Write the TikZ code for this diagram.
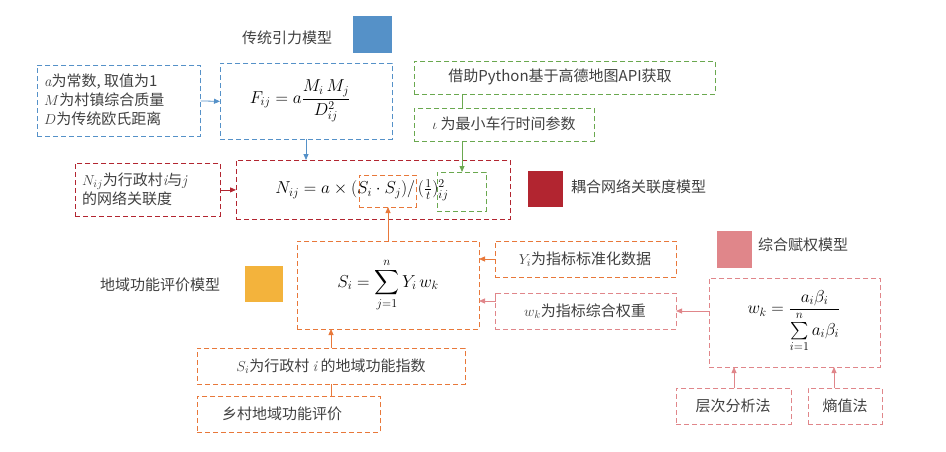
\documentclass[tikz,border=0pt]{standalone}
\usepackage{fontspec}
\usepackage{amsmath}
\newfontfamily\cjk{Noto Sans CJK SC}
\usetikzlibrary{arrows.meta}
\definecolor{cblue}{HTML}{5591C8}
\definecolor{cgreen}{HTML}{6AA84F}
\definecolor{cred}{HTML}{B22530}
\definecolor{corange}{HTML}{E8783A}
\definecolor{cyellow}{HTML}{F3B33C}
\definecolor{cpink}{HTML}{E0868A}
\definecolor{ctext}{HTML}{404040}
\begin{document}
\begin{tikzpicture}[x=1pt,y=-1pt,
  bx/.style={draw=#1,dashed,dash pattern=on 5pt off 3pt,line width=0.8pt,anchor=north west,inner sep=0pt,text=ctext},
  ar/.style={draw=#1,line width=0.8pt,-{Triangle[length=6pt,width=5pt]}},
  ln/.style={draw=#1,line width=0.8pt},
  tx/.style={text=ctext,font=\cjk\fontsize{15}{19}\selectfont,inner sep=0pt},
  font=\cjk\fontsize{15}{19}\selectfont]
\useasboundingbox (0,0) rectangle (946,452);
% legends
\node[tx] (t1) at (287,38) {传统引力模型};
\fill[cblue] (353,16) rectangle (392,53);
\fill[cred] (528,171) rectangle (563,207);
\node[tx,anchor=west] (t2) at (571,187) {耦合网络关联度模型};
\fill[cpink] (717,231) rectangle (752,268);
\node[tx,anchor=west] (t3) at (758,245) {综合赋权模型};
\node[tx] (t4) at (160,285) {地域功能评价模型};
\fill[cyellow] (245,266) rectangle (283,302);
% blue
\node[bx=cblue,minimum width=163pt,minimum height=71pt] (a) at (37,65) {};
\node[tx,align=left,anchor=west] at (44,100) {$\mathit{a}$为常数, 取值为1\\$M$为村镇综合质量\\$D$为传统欧氏距离};
\node[bx=cblue,minimum width=172pt,minimum height=76pt] (F) at (220,63) {};
\node[text=black,font=\fontsize{17}{20}\selectfont] at (300,101) {$F_{ij}=a\dfrac{M_i\,M_j}{D_{ij}^2}$};
% green
\node[bx=cgreen,minimum width=301pt,minimum height=33pt] (g1) at (414,61) {};
\node[tx] at (560,77) {借助Python基于高德地图API获取};
\node[bx=cgreen,minimum width=180pt,minimum height=33pt] (g2) at (414,108) {};
\node[tx] at (504,124) {$\iota$ 为最小车行时间参数};
% red
\node[bx=cred,minimum width=145pt,minimum height=53pt] (r) at (75,163) {};
\node[tx,align=left,anchor=west] at (82,189) {$N_{ij}$为行政村$\mathit{i}$与$\mathit{j}$\\的网络关联度};
\node[bx=cred,minimum width=274pt,minimum height=59pt] (N) at (236,160) {};
\node[bx=corange,minimum width=57pt,minimum height=32pt] (so) at (359,175) {};
\node[bx=cgreen,minimum width=49pt,minimum height=39pt] (tg) at (437,172) {};
\node[text=black,font=\fontsize{17}{20}\selectfont] at (362,190) {$N_{ij}=a\times(S_i\cdot S_j)/\,(\tfrac{1}{t})_{ij}^2$};
% S
\node[bx=corange,minimum width=182pt,minimum height=88pt] (S) at (297,241) {};
\node[text=black,font=\fontsize{17}{20}\selectfont] at (388,285) {$S_i=\displaystyle\sum_{j=1}^{n}Y_i\,w_k$};
\node[bx=corange,minimum width=181pt,minimum height=36pt] (Y) at (495,241) {};
\node[tx] at (585,259) {$Y_i$为指标标准化数据};
\node[bx=cpink,minimum width=181pt,minimum height=36pt] (W) at (495,293) {};
\node[tx] at (585,311) {$w_k$为指标综合权重};
\node[bx=cpink,minimum width=171pt,minimum height=89pt] (wk) at (709,278) {};
\node[text=black,font=\fontsize{17}{20}\selectfont] at (794,321) {$w_k=\dfrac{a_i\beta_i}{\sum\limits_{i=1}^{n}a_i\beta_i}$};
\node[bx=cpink,minimum width=115pt,minimum height=36pt] (h1) at (676,388) {};
\node[tx] at (733,406) {层次分析法};
\node[bx=cpink,minimum width=74pt,minimum height=36pt] (h2) at (808,388) {};
\node[tx] at (845,406) {熵值法};
\node[bx=corange,minimum width=268pt,minimum height=36pt] (si) at (197,348) {};
\node[tx] at (331,366) {$S_i$为行政村 $\mathit{i}$ 的地域功能指数};
\node[bx=corange,minimum width=183pt,minimum height=36pt] (xc) at (197,396) {};
\node[tx] at (282,414) {乡村地域功能评价};
% connectors
\draw[ar=cblue] (a.east) -- (F.west);
\draw[ar=cblue] (F.south) ++(0,0) coordinate (fb) (306,139) -- (306,160);
\draw[ln=cgreen] (462,94) -- (462,108);
\draw[ar=cgreen] (462,141) -- (462,172);
\draw[ar=cred] (r.east) -- (N.west |- r.east);
\draw[ar=corange] (388,241) -- (388,207);
\draw[ar=corange] (495,259) -- (479,259);
\draw[ar=cpink] (495,293) -- (495,301) -- (479,301);
\draw[ar=cpink] (709,311) -- (676,311);
\draw[ar=corange] (331,348) -- (331,329);
\draw[ln=corange] (331,384) -- (331,396);
\draw[ar=cpink] (h1.north -| 734,0) -- (734,367);
\draw[ar=cpink] (834,388) -- (834,367);
\end{tikzpicture}
\end{document}
